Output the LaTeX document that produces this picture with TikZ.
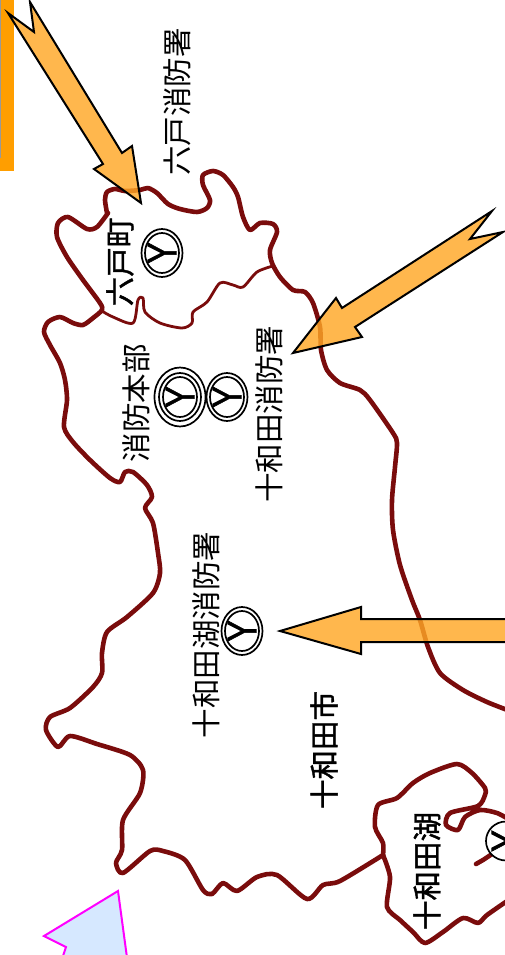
\documentclass[tikz,border=0pt]{standalone}
\usepackage{fontspec}
\usepackage{graphicx}
\newfontfamily\jpthin{Noto Sans CJK JP}
\newfontfamily\jpbold{Noto Sans CJK JP}[FakeBold=1.4]
\newfontfamily\lat{Liberation Sans}[FakeBold=1.6]
\definecolor{mapred}{HTML}{7A0C0C}
\definecolor{arroworange}{HTML}{FFA726}
\definecolor{barorange}{HTML}{FF9E00}
\definecolor{paleblue}{HTML}{D6E8FF}
\definecolor{pointerpink}{HTML}{FF00FF}
\tikzset{
  border/.style={draw=mapred,line width=4.6pt,line cap=round,line join=round},
  thinborder/.style={draw=mapred,line width=2.8pt,line cap=round,line join=round},
  callout/.style={draw=black,line width=2pt,fill=arroworange,fill opacity=.82,line join=miter},
  thinlabel/.style={rotate=90,inner sep=0pt,font=\jpthin\fontsize{29.5}{29.5}\selectfont},
  boldlabel/.style={rotate=90,inner sep=0pt,font=\jpbold\fontsize{29.5}{29.5}\selectfont},
  ring/.style={draw=black,line width=1.7pt,fill=white},
  ylabel/.style={rotate=90,inner sep=0pt,font=\lat\fontsize{33}{33}\selectfont}
}
\newcommand{\stationY}{\scalebox{1}[1.25]{Y}}
\begin{document}
\begin{tikzpicture}[x=1pt,y=-1pt]
\useasboundingbox (0,0) rectangle (504,955);
% orange bar
\fill[barorange] (0,0) rectangle (13.5,171);
\fill[gray!80] (0,0) rectangle (1,158);
% main outline
\draw[border] plot[smooth,tension=.45] coordinates {
(107,213)(105,200)(107,192)(115,189)(125,191)(140,190)(148,188)(157,193)(168,204)(180,209)(197,212)(207,208)(210,200)(203,185)(203,175)(213,171)(223,175)(233,187)(238,197)(243,217)(250,230)(260,223)(273,224)(277,232)(270,250)(272,263)(280,277)(293,290)(305,292)(313,303)(320,327)(321,350)(327,370)(340,383)(360,390)(370,400)(393,433)(397,443)(395,467)(392,500)(393,530)(400,565)(412,600)(420,620)(428,647)(440,673)(463,690)(487,702)(510,711)};
\draw[border] plot[smooth,tension=.45] coordinates {
(108,213)(97,227)(87,229)(68,217)(58,223)(57,237)(67,257)(83,280)(100,303)(102,310)(93,318)(83,325)(73,323)(60,317)(48,322)(44,332)(50,345)(60,363)(65,380)(67,400)(64,427)(73,442)(90,460)(110,478)(120,482)(125,472)(133,472)(147,485)(152,497)(145,508)(153,523)(158,553)(160,573)(153,593)(127,617)(107,632)(102,653)(102,673)(93,687)(70,708)(50,717)(46,730)(58,747)(70,736)(97,744)(130,755)(143,770)(140,793)(123,820)(122,850)(116,863)(123,873)(150,851)(163,851)(185,860)(203,890)(212,894)(223,883)(237,891)(257,877)(277,875)(307,899)(323,885)(340,881)(383,855)};
% inner boundary
\draw[thinborder] plot[smooth,tension=.5] coordinates {
(102,311)(113,317)(133,323)(138,300)(143,298)(145,312)(160,323)(182,328)(192,323)(193,312)(207,302)(220,283)(233,285)(243,287)(257,272)(273,266)};
% lake
\draw[border] plot[smooth,tension=.45] coordinates {
(383,855)(383,843)(375,827)(378,805)(397,798)(413,783)(430,773)(457,764)(472,773)(485,788)(485,795)(478,806)(450,813)(446,825)(458,830)(465,817)(480,810)(497,813)(510,820)};
\draw[border] plot[smooth,tension=.45] coordinates {
(383,855)(390,877)(387,907)(400,920)(413,932)(425,943)(443,932)(463,918)(478,923)(487,915)(510,899)};
\draw[border] (476,864) -- (483,860) -- (492,854);
% labels
\node[thinlabel] (rokunohe) at (177,102) {六戸消防署};
\node[boldlabel] (rokutown) at (120,262) {六戸町};
\node[thinlabel] (honbu) at (136,403) {消防本部};
\node[thinlabel] (towadast) at (269,414) {十和田消防署};
\node[thinlabel] (kosho) at (206,635) {十和田湖消防署};
\node[boldlabel] (city) at (324,750) {十和田市};
\node[boldlabel] (lake) at (427,871) {十和田湖};
% station symbols
\draw[ring] (162,253) ellipse [x radius=20.5,y radius=24];
\draw[ring] (162,253) ellipse [x radius=17,y radius=20];
\node[ylabel] (y1) at (162,253) {\stationY};
\draw[ring] (180,397) ellipse [x radius=25.5,y radius=29.5];
\draw[ring] (180,397) ellipse [x radius=21,y radius=24];
\draw[ring] (180,397) ellipse [x radius=17,y radius=20];
\node[ylabel] (y2) at (180,397) {\stationY};
\draw[ring] (227,397) ellipse [x radius=20.5,y radius=24];
\draw[ring] (227,397) ellipse [x radius=17,y radius=20];
\node[ylabel] (y3) at (227,397) {\stationY};
\draw[ring] (242,631) ellipse [x radius=20.5,y radius=24];
\draw[ring] (242,631) ellipse [x radius=17,y radius=20];
\node[ylabel] (y4) at (242,631) {\stationY};
\draw[ring] (506,841) ellipse [x radius=20,y radius=19.5];
\node[ylabel] (y5) at (506,841) {\stationY};
% arrows
\draw[callout] (8,13) -- (34,32) -- (30,2) -- (122,153) -- (132,146) -- (141,203) -- (94,169) -- (103,164) -- cycle;
\draw[callout] (492,211) -- (470,239) -- (503,232) -- (355,327) -- (362,337) -- (293,353) -- (336,298) -- (342,308) -- cycle;
\draw[callout] (520,619) -- (361,619) -- (361,607) -- (280,631) -- (361,654) -- (361,642) -- (520,642);
% pale blue pointer
\draw[draw=pointerpink,line width=2pt,fill=paleblue] (128,965) -- (118,891) -- (44,936) -- (66,947) -- (60,965);
\end{tikzpicture}
\end{document}
